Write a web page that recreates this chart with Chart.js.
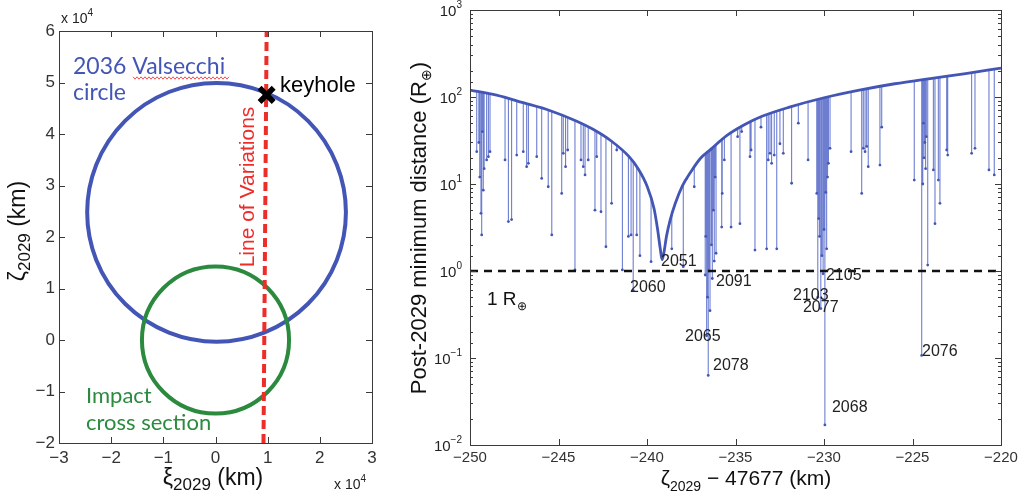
<!DOCTYPE html>
<html><head><meta charset="utf-8">
<script src="https://cdn.jsdelivr.net/npm/chart.js@4.4.1/dist/chart.umd.min.js"></script>
<style>
html,body{margin:0;padding:0;background:#fff;}
#wrap{position:relative;width:1018px;height:494px;overflow:hidden;}
#c1{position:absolute;left:0;top:0;}
#c2{position:absolute;left:400px;top:0;}
</style></head><body>
<div id="wrap">
<canvas id="c1" width="400" height="494"></canvas>
<canvas id="c2" width="618" height="494"></canvas>
</div>
<script>
// ---------------- LEFT PANEL DATA (units of 1e4 km) ----------------
const circleNames   = ['2036 Valsecchi circle', 'Impact cross section'];
const circleCenterX = [0.02, 0.0];
const circleCenterY = [2.48, 0.0];
const circleRadius  = [2.48, 1.41];
const lovX = [0.92, 0.98];          // Line of Variations
const lovY = [-2, 6];
const keyholeX = [0.98];
const keyholeY = [4.76];
const leftXRange = [-3, 3];
const leftYRange = [-2, 6];

// ---------------- RIGHT PANEL DATA ----------------
const envX = [-250,-248.5,-247,-245.5,-244,-243,-242,-241,-240.5,-240,-239.6,-239.4,-239.25,-239.15,-239.05,-238.9,-238.7,-238.4,-238,-237.5,-237,-236.4,-235.5,-234.5,-233.5,-232,-230,-228,-226,-224,-222,-220];
const envY = [120,105,86,70,53,42,31,20.5,15,9.5,5.2,3.0,1.8,1.35,1.6,2.5,3.8,6,9.5,14,19.5,25,36,48,60,76,98,120,142,163,186,215];

const spikeX = [
-249.62,-249.50,-249.45,-249.38,-249.34,-249.30,-249.25,-249.20,-249.06,-248.96,-248.87,-248.02,-247.83,-247.65,-247.36,-246.99,-246.80,-246.70,-246.23,-245.95,-245.58,-245.38,
-244.82,-244.73,-244.60,-244.48,-244.07,-243.73,-243.60,-243.50,-243.32,-242.94,-242.84,-242.60,-242.32,-242.00,-241.71,-241.39,-241.05,-240.90,-240.78,-240.58,-240.40,
-239.77,-238.60,-237.95,-237.76,-237.33,-236.71,-236.68,-236.63,-236.58,-236.54,-236.50,-236.44,-236.36,-236.31,-236.25,-236.20,-236.15,-236.10,-235.78,-235.75,-235.63,-235.25,
-234.88,-234.75,-234.65,-234.18,-234.12,-233.90,-233.56,-233.24,-233.15,-233.05,-232.96,-232.81,-232.67,-232.49,-232.30,-231.83,-231.45,-230.90,
-230.41,-230.35,-230.30,-230.25,-230.18,-230.12,-230.05,-230.00,-229.95,-229.90,-229.85,-229.80,-229.75,-229.66,-228.47,-227.87,-227.78,-227.68,-227.59,-227.50,-226.84,-226.74,
-224.90,-224.48,-224.42,-224.38,-224.35,-224.30,-224.26,-224.22,-224.14,-223.82,-223.73,-223.54,-223.45,-223.07,-223.01,-221.66,-221.47,-220.68,-220.38];
const spikeMin = [
23.5,30,12,4.6,2.6,40,8.5,15,18.9,20.6,23.5,18.9,3.7,3.9,21.5,23.5,15.8,17.3,20.6,11.6,9.3,2.6,
7.8,22.5,15.8,24.6,1.03,18.9,15.8,12.7,18.9,5.0,20.6,4.8,1.9,6.0,24.6,1.03,2.5,2.6,0.6,2.6,1.5,
1.28,1.8,1.12,11.6,9.3,0.9,2.5,0.18,0.5,0.063,1.0,0.35,2.0,0.82,5,1.3,12,1.6,3.2,7.8,18.9,3.2,
35,3.5,40,20.6,24.6,1.74,45,1.8,18.9,22.5,17.3,21.5,1.8,29,22.5,10.2,50,18.9,
7.8,0.5,4,2.5,0.37,1.5,0.93,3,0.017,8,1.8,12,17.3,25.7,23.5,7.8,25.7,23.5,27,15.8,16.5,45,
11.1,0.107,10,50,20,30,15,35,1.17,14.5,3.5,11.1,6.0,24.6,21.5,22.5,25.7,14.5,12.7];

const oneRX = [-250, -220];
const oneRY = [1, 1];
const yearLabels = ['2051','2060','2091','2065','2078','2068','2103','2077','2105','2076'];
const yearX = [-239.21,-240.96,-236.10,-237.85,-236.27,-229.55,-231.75,-231.19,-229.89,-224.46];
const yearY = [1.27,0.64,0.75,0.174,0.081,0.0266,0.516,0.376,0.877,0.12];
const rightXRange = [-250, -220];
const rightYRange = [0.01, 1000];

// ---------------- STYLE ----------------
const BLUE = '#4356b6';
const LBLUE = 'rgba(72,94,196,0.8)';
const GREEN = '#2b8a3e';
const RED = '#ee2d2b';
const SANS = "'Liberation Sans', Arial, sans-serif";
Chart.defaults.font.family = SANS;
Chart.defaults.animation = false;
Chart.defaults.plugins.legend.display = false;
Chart.defaults.plugins.tooltip.enabled = false;

function minus(v){ return String(v).replace('-', '\u2212'); }

function rich(ctx, parts, x, y, align, color, family){
  family = family || SANS;
  let total = 0;
  const w = parts.map(p => { ctx.font = p[1] + 'px ' + family; const m = ctx.measureText(p[0]).width; total += m; return m; });
  let cx = align === 'center' ? x - total/2 : (align === 'right' ? x - total : x);
  ctx.textAlign = 'left'; ctx.textBaseline = 'alphabetic'; ctx.fillStyle = color;
  parts.forEach((p,i) => { ctx.font = p[1] + 'px ' + family; ctx.fillText(p[0], cx, y + (p[2]||0)); cx += w[i]; });
}

function framePlugin(cfg){
  return {
    id: 'frame',
    afterDatasetsDraw(chart){
      const {ctx, chartArea: a, scales} = chart;
      ctx.save();
      ctx.strokeStyle = '#3a3a3a'; ctx.lineWidth = 1; ctx.setLineDash([]);
      ctx.strokeRect(Math.round(a.left)+.5, Math.round(a.top)+.5, Math.round(a.right-a.left), Math.round(a.bottom-a.top));
      ctx.beginPath();
      scales.x.ticks.forEach(t => {
        const px = Math.round(scales.x.getPixelForValue(t.value)) + .5;
        ctx.moveTo(px, a.bottom); ctx.lineTo(px, a.bottom - cfg.xLen);
        ctx.moveTo(px, a.top); ctx.lineTo(px, a.top + cfg.xLen);
      });
      scales.y.ticks.forEach(t => {
        let len = cfg.yLen;
        if (cfg.log){ const l = Math.log10(t.value); if (Math.abs(l - Math.round(l)) > 1e-6) len = cfg.yMinor; }
        const py = Math.round(scales.y.getPixelForValue(t.value)) + .5;
        ctx.moveTo(a.left, py); ctx.lineTo(a.left + len, py);
        ctx.moveTo(a.right, py); ctx.lineTo(a.right - len, py);
      });
      ctx.stroke();
      ctx.restore();
    }
  };
}

// ================= LEFT CHART =================
function circleRadiusPx(ctx, i){
  const s = ctx.chart.scales.x;
  if (!s) return 1;
  const r = Math.abs(s.getPixelForValue(circleCenterX[i] + circleRadius[i]) - s.getPixelForValue(circleCenterX[i]));
  return isFinite(r) && r > 0 ? r : 1;
}

const leftText = {
  id: 'leftText',
  afterDraw(chart){
    const ctx = chart.ctx;
    ctx.save();
    ctx.fillStyle = BLUE; ctx.font = "23px Lato, 'Open Sans', sans-serif"; ctx.textAlign='left'; ctx.textBaseline='alphabetic';
    ctx.fillText('2036 Valsecchi', 73, 74);
    ctx.fillText('circle', 73, 100);
    ctx.strokeStyle = '#f05050'; ctx.lineWidth = 1; ctx.beginPath();
    for (let x = 133, k = 0; x <= 230; x += 2, k++){ const y = 78 + (k % 2 ? 1.2 : -1.2); if (k===0) ctx.moveTo(x,y); else ctx.lineTo(x,y); }
    ctx.stroke();
    ctx.fillStyle = '#000'; ctx.font = '22px ' + SANS; ctx.fillText('keyhole', 280, 92);
    ctx.save(); ctx.translate(254, 187); ctx.rotate(-Math.PI/2);
    ctx.fillStyle = RED; ctx.font = '21px ' + SANS; ctx.textAlign = 'center'; ctx.fillText('Line of Variations', 0, 0);
    ctx.restore();
    ctx.fillStyle = GREEN; ctx.font = "22px Lato, 'Open Sans', sans-serif"; ctx.textAlign='left';
    ctx.fillText('Impact', 86, 403);
    ctx.fillText('cross section', 86, 430);
    rich(ctx, [['\u03be',23],['2029',17,5],[' (km)',23]], 213, 485, 'center', '#111');
    ctx.save(); ctx.translate(25, 231); ctx.rotate(-Math.PI/2);
    rich(ctx, [['\u03b6',23],['2029',17,5],[' (km)',23]], 0, 0, 'center', '#111');
    ctx.restore();
    rich(ctx, [['x 10',14],['4',10,-7]], 61, 23, 'left', '#222');
    rich(ctx, [['x 10',14],['4',10,-7]], 334, 489, 'left', '#222');
    ctx.restore();
  }
};

const circleDataset = (i, color) => ({
  type:'scatter', label: circleNames[i], data:[{x:circleCenterX[i], y:circleCenterY[i]}],
  pointStyle:'circle', pointRadius: ctx => circleRadiusPx(ctx, i), pointHoverRadius: ctx => circleRadiusPx(ctx, i),
  pointBorderColor: color, pointBorderWidth: 4, pointBackgroundColor:'rgba(0,0,0,0)', borderColor: color,
  clip: false
});

const leftChart = new Chart(document.getElementById('c1'), {
  type: 'scatter',
  data: { datasets: [
    { type:'scatter', label:'keyhole', data: keyholeX.map((x,i)=>({x, y:keyholeY[i]})),
      pointStyle:'crossRot', pointRadius:10, borderWidth:5.5, borderColor:'#000', backgroundColor:'#000' },
    { type:'line', label:'Line of Variations', data: lovX.map((x,i)=>({x, y:lovY[i]})),
      borderColor: RED, borderWidth: 4, borderDash:[9,5], pointRadius:0, fill:false, tension:0 },
    circleDataset(1, GREEN),
    circleDataset(0, BLUE)
  ]},
  options: {
    responsive:false, devicePixelRatio:1,
    layout:{ padding:{left:0, top:31, right:28, bottom:0} },
    scales:{
      x:{ type:'linear', min:leftXRange[0], max:leftXRange[1], grid:{display:false, drawTicks:false}, border:{display:false},
          ticks:{ stepSize:1, padding:5, color:'#333', font:{size:17}, callback:v=>minus(v) },
          afterFit:s=>{ s.height = 51; s.paddingLeft = 0; s.paddingRight = 0; } },
      y:{ type:'linear', min:leftYRange[0], max:leftYRange[1], grid:{display:false, drawTicks:false}, border:{display:false},
          ticks:{ stepSize:1, padding:4, color:'#333', font:{size:17}, callback:v=>minus(v) },
          afterFit:s=>{ s.width = 59; s.paddingTop = 0; s.paddingBottom = 0; } }
    }
  },
  plugins:[framePlugin({xLen:6, yLen:6}), leftText]
});

// ================= RIGHT CHART =================
const spikeData = [];
spikeX.forEach((x,i) => {
  spikeData.push({x, y: spikeMin[i]});
  spikeData.push({x, y: rightYRange[1]});
  spikeData.push({x, y: null});
});

const clipUnderEnvelope = {
  id: 'clipUnderEnvelope',
  beforeDatasetDraw(chart, args){
    if (chart.data.datasets[args.index].label !== 'spikes') return;
    const env = chart.getDatasetMeta(0);
    const a = chart.chartArea, ctx = chart.ctx;
    ctx.save();
    ctx.beginPath();
    const line = env.dataset;
    if (line && typeof line.path === 'function'){
      line.updateControlPoints(a, 'x');
      line.path(ctx);
    } else {
      env.data.forEach((p,i)=>{ if (i===0) ctx.moveTo(p.x,p.y); else ctx.lineTo(p.x,p.y); });
    }
    const last = env.data[env.data.length-1], first = env.data[0];
    ctx.lineTo(last.x, a.bottom + 5);
    ctx.lineTo(first.x, a.bottom + 5);
    ctx.closePath();
    ctx.clip();
    args.meta._clipped = true;
  },
  afterDatasetDraw(chart, args){
    if (args.meta._clipped){ chart.ctx.restore(); args.meta._clipped = false; }
  }
};

const rightText = {
  id:'rightText',
  afterDraw(chart){
    const {ctx, chartArea:a, scales} = chart;
    ctx.save();
    scales.y.ticks.forEach(t => {
      const l = Math.log10(t.value);
      if (Math.abs(l - Math.round(l)) > 1e-6) return;
      const e = Math.round(l);
      const py = scales.y.getPixelForValue(t.value);
      rich(ctx, [['10',15],[minus(e),10,-8]], a.left - 8, py + 6, 'right', '#222');
    });
    ctx.fillStyle = '#222'; ctx.font = '16px ' + SANS; ctx.textAlign='left'; ctx.textBaseline='middle';
    yearLabels.forEach((s,i) => {
      ctx.fillText(s, scales.x.getPixelForValue(yearX[i]), scales.y.getPixelForValue(yearY[i]));
    });
    const rx = scales.x.getPixelForValue(-249.04), ry = scales.y.getPixelForValue(0.49);
    rich(ctx, [['1 R',19],['\u2295',12,5]], rx, ry + 7, 'left', '#111');
    rich(ctx, [['\u03b6',21],['2029',14,6],[' \u2212 47677 (km)',21]], 346, 485, 'center', '#111');
    ctx.save(); ctx.translate(26, 228); ctx.rotate(-Math.PI/2);
    rich(ctx, [['Post-2029 minimum distance (R',22],['\u2295',14,5],[')',22]], 0, 0, 'center', '#111');
    ctx.restore();
    ctx.restore();
  }
};

new Chart(document.getElementById('c2'), {
  type:'line',
  data:{ datasets:[
    { label:'envelope', data: envX.map((x,i)=>({x, y:envY[i]})), borderColor: BLUE, borderWidth: 2.8,
      pointRadius:0, cubicInterpolationMode:'monotone', fill:false },
    { label:'1 Earth radius', data: oneRX.map((x,i)=>({x, y:oneRY[i]})), borderColor:'#111', borderWidth:2.5,
      borderDash:[8,6], pointRadius:0, fill:false },
    { label:'spikes', data: spikeData, borderColor: LBLUE, borderWidth: 1.1, spanGaps:false,
      pointRadius: c => (c.dataIndex % 3 === 0 ? 1.4 : 0), pointBackgroundColor: BLUE, pointBorderWidth:0, fill:false }
  ]},
  options:{
    responsive:false, devicePixelRatio:1,
    layout:{ padding:{left:0, top:10, right:17, bottom:0} },
    scales:{
      x:{ type:'linear', min:rightXRange[0], max:rightXRange[1], grid:{display:false, drawTicks:false}, border:{display:false},
          ticks:{ stepSize:5, padding:4, color:'#333', font:{size:15}, callback:v=>minus(v) },
          afterFit:s=>{ s.height = 49; s.paddingLeft = 0; s.paddingRight = 0; } },
      y:{ type:'logarithmic', min:rightYRange[0], max:rightYRange[1], grid:{display:false, drawTicks:false}, border:{display:false},
          ticks:{ autoSkip:false, callback:()=>'' },
          afterFit:s=>{ s.width = 70; s.paddingTop = 0; s.paddingBottom = 0; } }
    }
  },
  plugins:[clipUnderEnvelope, framePlugin({xLen:6, yLen:6, log:true, yMinor:3}), rightText]
});
</script>
</body></html>
